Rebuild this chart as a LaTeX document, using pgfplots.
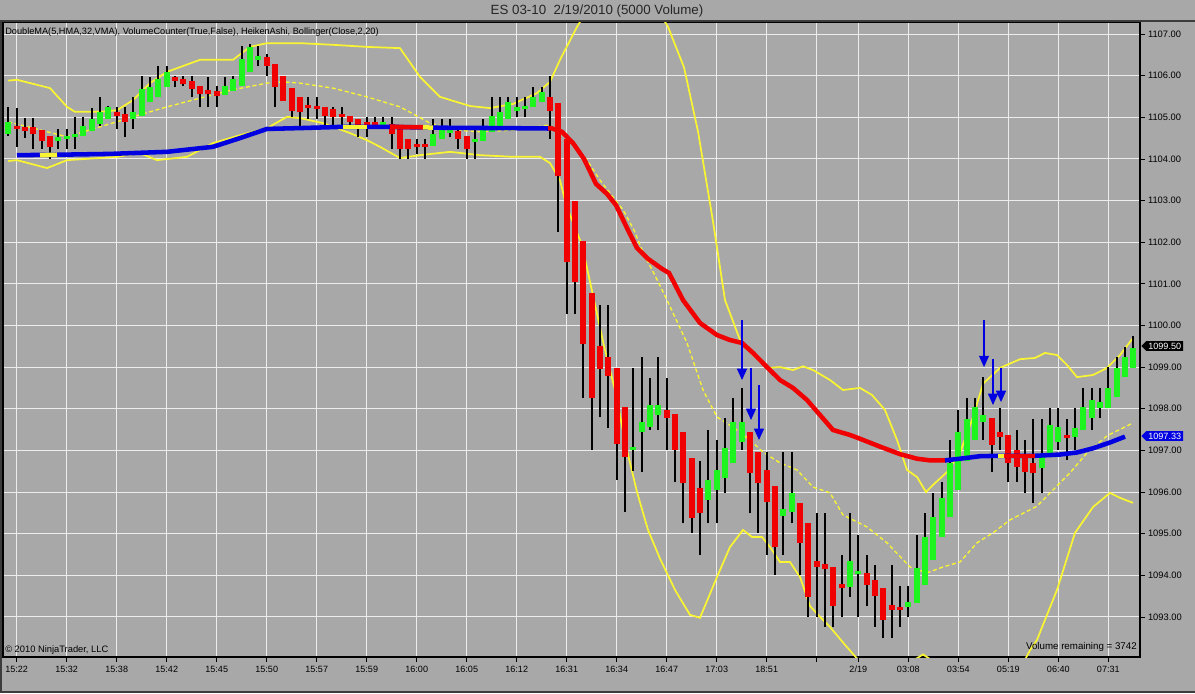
\documentclass[border=0pt]{standalone}
\usepackage{fontspec}
\setmainfont{Liberation Sans}
\usepackage{pgfplots}
\pgfplotsset{compat=1.18}
\usepackage{pgfplotstable}
\usetikzlibrary{arrows.meta,shapes.symbols}

\definecolor{bg}{RGB}{168,168,168}
\definecolor{gridc}{RGB}{236,236,236}
\definecolor{hagreen}{RGB}{30,245,30}
\definecolor{hared}{RGB}{240,0,0}
\definecolor{bandyel}{RGB}{250,245,50}
\definecolor{mablue}{RGB}{0,0,225}
\definecolor{frame}{RGB}{60,60,60}

% Heiken Ashi bars: bar number, open, high, low, close
\pgfplotstableread{
k open high low close
1 1104.60 1105.24 1104.56 1104.88
2 1104.78 1105.22 1104.28 1104.72
3 1104.74 1104.98 1104.50 1104.68
4 1104.76 1104.98 1104.24 1104.60
5 1104.70 1104.70 1104.24 1104.44
6 1104.56 1104.56 1104.00 1104.28
7 1104.44 1104.72 1104.24 1104.52
8 1104.48 1104.72 1104.24 1104.56
9 1104.52 1105.00 1104.24 1104.60
10 1104.56 1105.00 1104.56 1104.80
11 1104.68 1105.22 1104.68 1104.96
12 1104.84 1105.48 1104.80 1105.12
13 1104.96 1105.26 1104.96 1105.24
14 1105.12 1105.24 1104.72 1105.04
15 1105.08 1105.24 1104.52 1104.88
16 1104.96 1105.48 1104.72 1105.12
17 1105.04 1106.00 1105.04 1105.68
18 1105.36 1105.96 1105.36 1105.72
19 1105.48 1106.24 1105.48 1105.92
20 1105.72 1106.24 1105.72 1106.08
21 1105.96 1106.00 1105.72 1105.88
22 1105.92 1106.00 1105.76 1105.80
23 1105.88 1106.00 1105.48 1105.68
24 1105.76 1105.76 1105.24 1105.56
25 1105.66 1105.96 1105.24 1105.56
26 1105.62 1105.76 1105.24 1105.52
27 1105.54 1105.96 1105.54 1105.74
28 1105.64 1106.00 1105.64 1105.92
29 1105.76 1106.72 1105.76 1106.40
30 1106.08 1106.76 1106.08 1106.68
31 1106.38 1106.72 1106.24 1106.48
32 1106.44 1106.52 1106.00 1106.24
33 1106.28 1106.28 1105.24 1105.72
34 1106.00 1106.00 1105.40 1105.40
35 1105.70 1105.70 1105.00 1105.16
36 1105.48 1105.48 1104.72 1105.12
37 1105.30 1105.48 1104.96 1105.22
38 1105.28 1105.48 1104.96 1105.20
39 1105.24 1105.24 1104.72 1105.04
40 1105.20 1105.24 1104.72 1105.00
41 1105.08 1105.24 1104.72 1105.00
42 1105.04 1105.04 1104.76 1104.88
43 1104.96 1104.96 1104.52 1104.80
44 1104.88 1105.00 1104.52 1104.74
45 1104.86 1105.00 1104.72 1104.80
46 1104.80 1105.00 1104.72 1104.88
47 1104.84 1105.00 1104.24 1104.60
48 1104.76 1104.76 1104.00 1104.24
49 1104.48 1104.48 1104.00 1104.24
50 1104.36 1104.48 1104.12 1104.28
51 1104.36 1104.48 1104.00 1104.28
52 1104.32 1104.96 1104.32 1104.60
53 1104.48 1104.96 1104.48 1104.72
54 1104.62 1104.96 1104.52 1104.72
55 1104.68 1104.72 1104.24 1104.48
56 1104.56 1104.56 1104.00 1104.24
57 1104.40 1104.72 1104.00 1104.46
58 1104.44 1104.96 1104.44 1104.76
59 1104.64 1105.48 1104.64 1105.04
60 1104.80 1105.48 1104.76 1105.12
61 1104.96 1105.48 1104.96 1105.36
62 1105.16 1105.48 1105.00 1105.24
63 1105.20 1105.48 1105.00 1105.26
64 1105.24 1105.72 1105.24 1105.48
65 1105.36 1105.72 1105.36 1105.60
66 1105.48 1106.00 1104.48 1105.16
67 1105.34 1105.34 1102.25 1103.58
68 1104.48 1104.48 1100.28 1101.52
69 1102.98 1102.98 1100.28 1101.05
70 1102.02 1102.02 1098.26 1099.55
71 1100.79 1100.79 1097.02 1098.26
72 1099.50 1100.49 1097.79 1098.95
73 1099.25 1100.49 1097.53 1098.78
74 1098.99 1098.99 1096.29 1097.15
75 1098.05 1098.05 1095.52 1096.85
76 1097.00 1098.99 1096.50 1097.06
77 1097.45 1099.25 1096.49 1097.69
78 1097.57 1098.75 1097.49 1098.09
79 1097.85 1099.25 1097.49 1098.09
80 1097.97 1098.75 1097.01 1097.77
81 1097.87 1097.87 1096.25 1097.01
82 1097.43 1097.43 1095.25 1096.21
83 1096.81 1096.81 1095.01 1095.37
84 1096.09 1096.75 1094.49 1095.49
85 1095.81 1097.49 1095.25 1096.29
86 1096.05 1097.25 1095.25 1096.53
87 1096.33 1097.77 1095.98 1097.05
88 1096.69 1098.25 1096.69 1097.69
89 1097.21 1098.49 1097.01 1097.67
90 1097.43 1097.43 1095.49 1096.45
91 1096.97 1096.97 1095.01 1096.21
92 1096.54 1096.97 1094.49 1095.77
93 1096.14 1096.14 1094.01 1094.69
94 1095.43 1096.97 1094.49 1095.60
95 1095.53 1096.97 1095.25 1095.97
96 1095.74 1095.74 1094.00 1094.77
97 1095.25 1095.25 1093.00 1093.49
98 1094.34 1095.49 1093.00 1094.20
99 1094.27 1095.49 1092.76 1094.14
100 1094.21 1094.21 1092.76 1093.26
101 1093.76 1094.49 1093.00 1093.70
102 1093.73 1095.49 1093.49 1094.35
103 1094.02 1094.97 1093.00 1094.08
104 1094.05 1094.49 1093.26 1093.77
105 1093.89 1094.25 1092.76 1093.50
106 1093.69 1093.69 1092.49 1092.93
107 1093.29 1094.25 1092.49 1093.17
108 1093.24 1093.74 1092.76 1093.16
109 1093.24 1093.74 1093.00 1093.37
110 1093.33 1094.97 1093.33 1094.17
111 1093.77 1095.49 1093.77 1094.93
112 1094.37 1095.98 1094.37 1095.41
113 1094.93 1096.25 1094.93 1095.86
114 1095.39 1097.25 1095.39 1096.69
115 1096.05 1097.97 1096.05 1097.43
116 1096.75 1098.25 1096.75 1097.75
117 1097.25 1098.25 1097.25 1098.03
118 1097.67 1098.77 1097.25 1097.85
119 1097.77 1097.77 1096.49 1097.13
120 1097.43 1098.01 1097.01 1097.33
121 1097.37 1097.37 1096.25 1096.69
122 1097.00 1097.49 1096.25 1096.60
123 1096.86 1097.25 1095.98 1096.49
124 1096.69 1097.75 1095.74 1096.45
125 1096.57 1097.75 1095.98 1096.85
126 1096.85 1098.01 1096.85 1097.61
127 1097.21 1098.01 1097.01 1097.57
128 1097.37 1097.75 1096.77 1097.30
129 1097.33 1098.01 1097.01 1097.53
130 1097.49 1098.49 1097.49 1098.05
131 1097.77 1098.49 1097.49 1098.21
132 1098.01 1098.49 1097.77 1098.17
133 1098.01 1099.01 1098.01 1098.49
134 1098.29 1099.25 1098.29 1098.97
135 1098.77 1099.49 1098.77 1099.25
136 1098.97 1099.75 1098.97 1099.45
}\bars

% Bollinger upper band
\pgfplotstableread{
x y
8 1105.88
17 1105.90
50 1105.70
67 1105.25
75 1105.13
100 1105.13
117 1105.17
133 1105.41
150 1105.82
167 1106.09
200 1106.38
233 1106.38
250 1106.69
267 1106.78
300 1106.78
333 1106.74
367 1106.69
400 1106.66
420 1105.97
440 1105.49
470 1105.27
490 1105.22
513 1105.32
537 1105.58
550 1105.85
560 1106.38
577 1107.17
595 1107.90
620 1108.40
645 1108.10
668 1107.17
684 1106.20
698 1104.66
713 1102.50
725 1100.61
740 1099.65
753 1099.29
768 1098.98
780 1099.00
793 1098.93
803 1099.02
813 1098.93
830 1098.69
843 1098.45
860 1098.50
872 1098.33
885 1097.97
897 1097.25
907 1096.53
917 1096.36
926 1096.00
933 1096.17
947 1096.48
960 1096.94
973 1097.80
983 1098.60
1000 1098.98
1020 1099.19
1035 1099.22
1045 1099.34
1057 1099.29
1067 1099.05
1077 1098.76
1093 1098.81
1107 1098.98
1120 1099.29
1133 1099.70
}\bandup

% Bollinger lower band
\pgfplotstableread{
x y
8 1103.95
17 1103.97
47 1103.78
67 1103.97
117 1104.05
140 1104.14
157 1103.97
187 1104.05
213 1104.38
240 1104.57
267 1104.74
287 1105.01
300 1104.98
323 1104.86
350 1104.62
367 1104.45
380 1104.29
400 1104.02
420 1104.09
450 1104.17
480 1104.09
513 1104.05
540 1104.05
550 1103.90
560 1103.49
566 1102.90
582 1101.93
604 1099.51
616 1098.35
625 1097.20
637 1096.00
648 1095.09
660 1094.40
675 1093.65
690 1093.05
700 1092.98
717 1093.96
730 1094.68
743 1095.09
752 1094.92
762 1094.92
770 1094.68
780 1094.32
790 1094.32
800 1093.96
810 1093.26
820 1093.00
830 1092.76
845 1092.33
860 1091.92
880 1091.60
900 1091.75
923 1092.10
945 1091.75
980 1091.00
1010 1091.30
1030 1092.20
1037 1092.45
1057 1093.65
1075 1095.02
1093 1095.64
1110 1095.98
1120 1095.86
1133 1095.74
}\bandlo

% Bollinger middle band
\pgfplotstableread{
x y
8 1104.89
33 1104.74
67 1104.53
100 1104.77
133 1105.01
167 1105.25
200 1105.46
233 1105.66
267 1105.82
283 1105.85
300 1105.82
333 1105.70
367 1105.49
400 1105.25
430 1104.86
457 1104.69
480 1104.65
513 1104.69
537 1104.77
547 1104.81
557 1104.69
570 1104.45
587 1103.97
600 1103.49
616 1102.99
623 1102.78
634 1102.29
644 1101.70
655 1101.20
667 1100.61
687 1099.58
703 1098.45
717 1097.80
733 1097.56
750 1097.25
763 1096.96
780 1096.70
797 1096.53
813 1096.12
830 1095.98
843 1095.45
867 1095.16
887 1094.78
910 1094.20
927 1094.06
943 1094.20
960 1094.32
977 1094.78
993 1095.02
1010 1095.33
1037 1095.66
1053 1096.05
1070 1096.46
1087 1096.94
1107 1097.35
1123 1097.54
1133 1097.66
}\bandmid

\begin{document}
\begin{tikzpicture}
\useasboundingbox (0,0) rectangle (896.25pt,519.75pt);
\fill[bg] (0,0) rectangle (896.25pt,519.75pt);

\begin{axis}[
  at={(2.25pt,27pt)}, anchor=south west,
  width=852.75pt, height=476.25pt, scale only axis,
  xmin=3, xmax=1140, ymin=1092.038, ymax=1107.288,
  axis background/.style={fill=bg},
  axis line style={black, line width=0.9pt},
  grid=major, major grid style={gridc, line width=0.8pt},
  xtick={16.7,66.7,116.7,166.7,216.7,266.7,316.7,366.7,416.7,466.7,516.7,566.7,616.7,666.7,716.7,766.7,816.7,858.3,908.3,958.3,1008.3,1058.3,1108.3},
  xticklabels={15:22,15:32,15:38,15:42,15:45,15:50,15:57,15:59,16:00,16:05,16:12,16:31,16:34,16:47,17:03,18:51,{},2/19,03:08,03:54,05:19,06:40,07:31},
  ytick={1093,1094,...,1107},
  xtick pos=left, ytick pos=right, yticklabel pos=right,
  tick align=outside, major tick length=3.5pt,
  tick style={black, line width=0.6pt},
  /pgf/number format/fixed, /pgf/number format/fixed zerofill,
  /pgf/number format/precision=2, /pgf/number format/1000 sep={},
  /pgf/number format/assume math mode=true,
  yticklabel style={font=\fontsize{7}{8}\selectfont, xshift=-1pt},
  xticklabel style={font=\fontsize{6.8}{8}\selectfont},
  clip mode=individual,
]
% Bollinger bands
\addplot[bandyel, line width=1.3pt, no marks] table[x=x,y=y] {\bandup};
\addplot[bandyel, line width=1.3pt, no marks] table[x=x,y=y] {\bandlo};
\addplot[bandyel, line width=1pt, dash pattern=on 3pt off 2pt, no marks] table[x=x,y=y] {\bandmid};

% wicks
\addplot[draw=none, mark=none, error bars/.cd, y dir=plus, y explicit, error mark=none,
  error bar style={draw=black, line width=1.5pt}]
  table[x expr=8.333*\thisrow{k}, y=low, y error plus expr=\thisrow{high}-\thisrow{low}] {\bars};
% rising bodies
\addplot[draw=none, mark=none, restrict expr to domain={\thisrow{close}-\thisrow{open}}{0:20},
  error bars/.cd, y dir=plus, y explicit, error mark=none,
  error bar style={draw=hagreen, line width=4.3pt}]
  table[x expr=8.333*\thisrow{k}, y=open, y error plus expr={max(\thisrow{close}-\thisrow{open},0.08)}] {\bars};
% falling bodies
\addplot[draw=none, mark=none, restrict expr to domain={\thisrow{open}-\thisrow{close}}{0.0001:20},
  error bars/.cd, y dir=plus, y explicit, error mark=none,
  error bar style={draw=hared, line width=4.3pt}]
  table[x expr=8.333*\thisrow{k}, y=close, y error plus expr={max(\thisrow{open}-\thisrow{close},0.08)}] {\bars};

% DoubleMA line
\addplot[mablue, line width=3.4pt, no marks] coordinates {
 (17,1104.09) (57,1104.10) (110,1104.12) (167,1104.17) (213,1104.29) (240,1104.50)
 (267,1104.72) (300,1104.74) (343,1104.77) (390,1104.77) (433,1104.75) (500,1104.74) (550,1104.73)};
\addplot[bandyel, line width=3.4pt, no marks] coordinates {(40,1104.09) (57,1104.10)};
\addplot[bandyel, line width=3.4pt, no marks] coordinates {(343,1104.77) (367,1104.77)};
\addplot[hared, line width=3.4pt, no marks] coordinates {(390,1104.77) (423,1104.76)};
\addplot[bandyel, line width=3.4pt, no marks] coordinates {(423,1104.76) (433,1104.75)};
\addplot[hared, line width=3.4pt, no marks] coordinates {
 (548,1104.73) (551,1104.74) (562,1104.65) (573,1104.38) (584,1104.00) (596,1103.40)
 (607,1103.16) (616,1102.89) (626,1102.39) (637,1101.86) (648,1101.60) (662,1101.36)
 (669,1101.26) (683,1100.61) (700,1100.06) (717,1099.77) (730,1099.65) (742,1099.58)
 (753,1099.34) (767,1099.00) (780,1098.69) (793,1098.50) (807,1098.21) (820,1097.85)
 (833,1097.49) (850,1097.37) (860,1097.28) (880,1097.09) (900,1096.91) (917,1096.80)
 (930,1096.76) (946,1096.76)};
\addplot[mablue, line width=3.4pt, no marks] coordinates {
 (945,1096.76) (960,1096.80) (980,1096.86) (998,1096.87) (1035,1096.87) (1060,1096.90)
 (1077,1096.95) (1093,1097.05) (1110,1097.19) (1125,1097.33)};
\addplot[bandyel, line width=3.4pt, no marks] coordinates {(998,1096.87) (1004,1096.87)};
\addplot[hared, line width=3.4pt, no marks] coordinates {(1004,1096.87) (1035,1096.87)};

% signal arrows
\addplot[mablue, line width=0.8pt, -{Triangle[width=7.5pt,length=8.5pt]}] coordinates {(742,1100.13) (742,1098.69)};
\addplot[mablue, line width=0.8pt, -{Triangle[width=7.5pt,length=8.5pt]}] coordinates {(751,1098.98) (751,1097.73)};
\addplot[mablue, line width=0.8pt, -{Triangle[width=7.5pt,length=8.5pt]}] coordinates {(759,1098.57) (759,1097.25)};
\addplot[mablue, line width=0.8pt, -{Triangle[width=7.5pt,length=8.5pt]}] coordinates {(984,1100.13) (984,1099.00)};
\addplot[mablue, line width=0.8pt, -{Triangle[width=7.5pt,length=8.5pt]}] coordinates {(993,1099.19) (993,1098.09)};
\addplot[mablue, line width=0.8pt, -{Triangle[width=7.5pt,length=8.5pt]}] coordinates {(1001,1098.98) (1001,1098.16)};
\end{axis}

% frame, titles and labels (pixel coordinates, y downwards)
\begin{scope}[x=0.75pt, y=-0.75pt, shift={(0,519.75pt)}]
\draw[frame, line width=1.5pt] (0,21) -- (1195,21);
\draw[frame, line width=1.5pt] (1,21) -- (1,692);
\draw[frame, line width=1.5pt] (0,692) -- (1195,692);
\node[font=\fontsize{10}{12}\selectfont, text=black!85] at (597,11) {ES 03-10\ \ 2/19/2010 (5000 Volume)};
\node[anchor=west, font=\fontsize{6.9}{8}\selectfont, inner sep=0pt] at (5,32)
  {DoubleMA(5,HMA,32,VMA), VolumeCounter(True,False), HeikenAshi, Bollinger(Close,2,20)};
\node[anchor=west, font=\fontsize{7}{8}\selectfont, inner sep=0pt] at (5,650) {\textcopyright\ 2010 NinjaTrader, LLC};
\node[anchor=east, font=\fontsize{7.3}{8}\selectfont, inner sep=0pt] at (1137,647) {Volume remaining = 3742};
\node[signal, signal to=west, fill=black, text=white, font=\fontsize{6.8}{7}\selectfont,
  inner xsep=1.5pt, inner ysep=1.3pt, anchor=west] at (1141,346) {1099.50};
\node[signal, signal to=west, fill=mablue, text=white, font=\fontsize{6.8}{7}\selectfont,
  inner xsep=1.5pt, inner ysep=1.3pt, anchor=west] at (1141,436) {1097.33};
\end{scope}
\end{tikzpicture}
\end{document}
